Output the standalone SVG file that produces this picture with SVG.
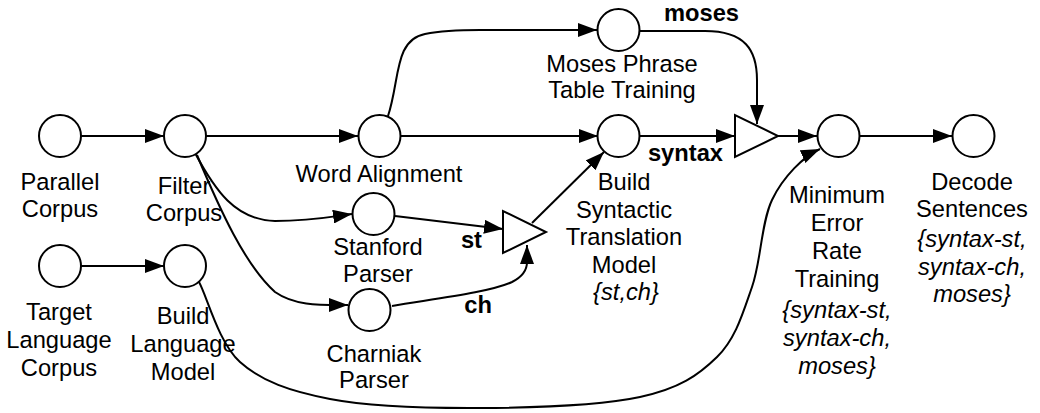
<svg xmlns="http://www.w3.org/2000/svg" width="1040" height="413" viewBox="0 0 1040 413">
<style>
.n{fill:#fff;stroke:#000;stroke-width:2}
.e{fill:none;stroke:#000;stroke-width:2}
text{font-family:"Liberation Sans",Arial,Helvetica,sans-serif;font-size:23.7px;fill:#000;text-anchor:middle}
.i{font-style:italic}
.b{font-weight:bold;text-anchor:end}
</style>
<defs>
<marker id="a" markerUnits="userSpaceOnUse" markerWidth="20" markerHeight="14" refX="19" refY="7" orient="auto">
<path d="M0,0 L19,7 L0,14 z" fill="#000"/>
</marker>
</defs>
<rect width="1040" height="413" fill="#fff"/>
<g id="edges">
<path class="e" marker-end="url(#a)" d="M81,136 L164,136"/>
<path class="e" marker-end="url(#a)" d="M81,266 L164,266"/>
<path class="e" marker-end="url(#a)" d="M206,136 L358,136"/>
<path class="e" marker-end="url(#a)" d="M195,153 C215,190 235,220 275,221 C310,221 330,217 352,214"/>
<path class="e" marker-end="url(#a)" d="M197,155 C220,210 245,265 275,292 C295,306 320,305 348,305"/>
<path class="e" marker-end="url(#a)" d="M401,136 L598,136"/>
<path class="e" marker-end="url(#a)" d="M388,116 C400,80 394,40 425,34 C440,31 460,30 480,30 L597,30"/>
<path class="e" marker-end="url(#a)" d="M395,216 L503,229"/>
<path class="e" marker-end="url(#a)" d="M392,306 C440,298 490,292 512,282 C524,276 527,268 527,262 L527,245"/>
<path class="e" marker-end="url(#a)" d="M532,223 L604,152"/>
<path class="e" marker-end="url(#a)" d="M640,136 L735,136"/>
<path class="e" marker-end="url(#a)" d="M640,31 L705,31 C745,31 757,50 757,80 L757,124"/>
<path class="e" marker-end="url(#a)" d="M778,136 L817,136"/>
<path class="e" marker-end="url(#a)" d="M860,136 L952,136"/>
<path class="e" marker-end="url(#a)" d="M199,282 C206.7,295.3 218.3,342.5 240,362 C261.7,381.5 290,391.3 330,399 C370,406.7 428.3,408.3 480,408 C531.7,407.7 600.5,405.5 640,397 C679.5,388.5 698.3,375.3 717,357 C735.7,338.7 742.8,313.2 752,287 C761.2,260.8 761,223.2 772,200 C783,176.8 804,156 820,149"/>
</g>
<g id="parallel-corpus"><circle class="n" cx="60" cy="136" r="21"/><text x="60" y="190">Parallel</text><text x="60" y="217">Corpus</text></g>
<g id="filter-corpus"><circle class="n" cx="185" cy="136" r="21"/><text x="184" y="194">Filter</text><text x="184" y="221">Corpus</text></g>
<g id="target-language-corpus"><circle class="n" cx="60" cy="266" r="21"/><text x="59" y="320">Target</text><text x="59" y="348">Language</text><text x="59" y="376">Corpus</text></g>
<g id="build-language-model"><circle class="n" cx="185" cy="266" r="21"/><text x="183" y="324">Build</text><text x="183" y="352">Language</text><text x="183" y="380">Model</text></g>
<g id="word-alignment"><circle class="n" cx="379.5" cy="136" r="21"/><text x="379" y="182">Word Alignment</text></g>
<g id="stanford-parser"><circle class="n" cx="373.5" cy="214" r="21"/><text x="378" y="255">Stanford</text><text x="378" y="282">Parser</text></g>
<g id="charniak-parser"><circle class="n" cx="369.5" cy="310" r="21"/><text x="374" y="362">Charniak</text><text x="374" y="388">Parser</text></g>
<g id="merge-parsers"><polygon class="n" points="503,211 503,253 546,232"/></g>
<g id="moses-phrase-table-training"><circle class="n" cx="618.5" cy="30" r="21"/><text x="622" y="72">Moses Phrase</text><text x="622" y="98">Table Training</text></g>
<g id="build-syntactic-translation-model"><circle class="n" cx="618.5" cy="136" r="21"/><text x="624" y="190">Build</text><text x="624" y="218">Syntactic</text><text x="624" y="245">Translation</text><text x="624" y="273">Model</text><text class="i" x="626" y="300">{st,ch}</text></g>
<g id="merge-models"><polygon class="n" points="735,115 735,157 778,136"/></g>
<g id="minimum-error-rate-training"><circle class="n" cx="838.5" cy="136" r="21"/><text x="837" y="203">Minimum</text><text x="837" y="231">Error</text><text x="837" y="259">Rate</text><text x="837" y="287">Training</text><text class="i" x="837" y="318">{syntax-st,</text><text class="i" x="837" y="346">syntax-ch,</text><text class="i" x="837" y="374">moses}</text></g>
<g id="decode-sentences"><circle class="n" cx="973.5" cy="136" r="21"/><text x="972" y="190">Decode</text><text x="972" y="217">Sentences</text><text class="i" x="972" y="247">{syntax-st,</text><text class="i" x="972" y="275">syntax-ch,</text><text class="i" x="972" y="302">moses}</text></g>
<g id="edge-labels">
<text class="b" x="739" y="21">moses</text>
<text class="b" x="723" y="161">syntax</text>
<text class="b" x="482" y="248">st</text>
<text class="b" x="492" y="313">ch</text>
</g>
</svg>
